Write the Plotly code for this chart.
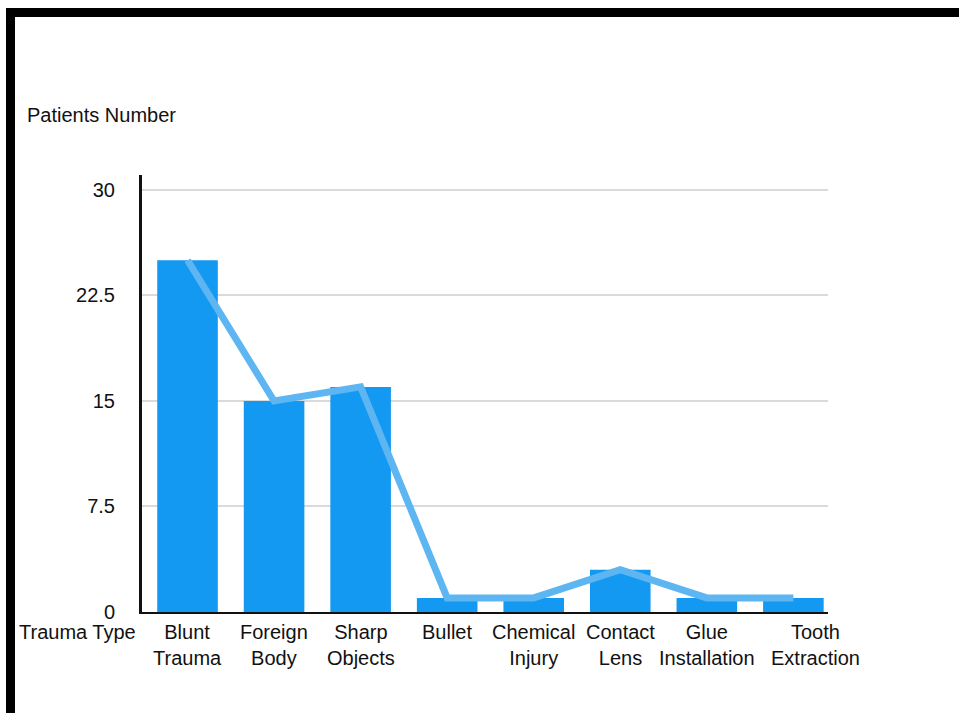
import plotly.graph_objects as go

# Trauma categories and patient counts
categories = ["Blunt Trauma", "Foreign Body", "Sharp Objects", "Bullet",
              "Chemical Injury", "Contact Lens", "Glue Installation", "Tooth Extraction"]
tick_labels = ["Blunt<br>Trauma", "Foreign<br>Body", "Sharp<br>Objects", "Bullet",
               "Chemical<br>Injury", "Contact<br>Lens", "Glue<br>Installation", "Tooth<br>Extraction"]
patients = [25, 15, 16, 1, 1, 3, 1, 1]
y_ticks = [0, 7.5, 15, 22.5, 30]

W, H = 959, 713
L, R, T, B = 142, 131, 175, 101
plot_w = W - L - R
plot_h = H - T - B

FONT = "Liberation Sans, Arial, Helvetica, sans-serif"
TEXT = "#111111"
BAR_COLOR = "#1399f1"
LINE_COLOR = "#5db6f2"


def px_x(px):
    return (px - L) / plot_w


def px_y(py):
    return (H - B - py) / plot_h


fig = go.Figure()
fig.add_trace(go.Bar(x=categories, y=patients, marker=dict(color=BAR_COLOR, line=dict(width=0)),
                     hoverinfo="x+y"))
fig.add_trace(go.Scatter(x=categories, y=patients, mode="lines",
                         line=dict(color=LINE_COLOR, width=7), hoverinfo="skip"))

# category labels under the x axis
annotations = []
for i, (cat, lab) in enumerate(zip(categories, tick_labels)):
    shift = 22 if i == len(categories) - 1 else 0
    annotations.append(dict(text=lab, xref="x", yref="paper", x=cat, y=px_y(619),
                            xanchor="center", yanchor="top", xshift=shift, showarrow=False,
                            font=dict(size=20, family=FONT, color=TEXT)))

annotations += [
    dict(text="Patients Number", xref="paper", yref="paper",
         x=px_x(25), y=px_y(115), xanchor="left", yanchor="middle",
         showarrow=False, font=dict(size=20, family=FONT, color=TEXT)),
    dict(text="Trauma Type", xref="paper", yref="paper",
         x=px_x(138), y=px_y(632), xanchor="right", yanchor="middle",
         showarrow=False, font=dict(size=20, family=FONT, color=TEXT)),
]

fig.update_layout(
    width=W, height=H,
    margin=dict(l=L, r=R, t=T, b=B, pad=0),
    paper_bgcolor="white", plot_bgcolor="white",
    showlegend=False,
    bargap=0.3,
    font=dict(family=FONT, size=20, color=TEXT),
    xaxis=dict(
        range=[-0.526, 7.40],
        showline=True, linecolor=TEXT, linewidth=2,
        showgrid=False, ticks="", showticklabels=False,
        fixedrange=True,
    ),
    yaxis=dict(
        range=[0, 31.06],
        tickvals=y_ticks, ticktext=["0", "7.5", "15", "22.5", "30"],
        showline=True, linecolor=TEXT, linewidth=3,
        showgrid=True, gridcolor="#dadada", gridwidth=1.5,
        zeroline=False, ticks="", ticklabelstandoff=20,
        tickfont=dict(size=20, family=FONT, color=TEXT),
        fixedrange=True,
    ),
    shapes=[
        # frame: top bar and left bar
        dict(type="rect", xref="paper", yref="paper",
             x0=px_x(6), x1=px_x(W + 5), y0=px_y(17), y1=px_y(8),
             fillcolor="black", line=dict(width=0), layer="above"),
        dict(type="rect", xref="paper", yref="paper",
             x0=px_x(6), x1=px_x(15), y0=px_y(H + 5), y1=px_y(8),
             fillcolor="black", line=dict(width=0), layer="above"),
    ],
    annotations=annotations,
)

fig.write_html("out.html", config={"displayModeBar": False})
